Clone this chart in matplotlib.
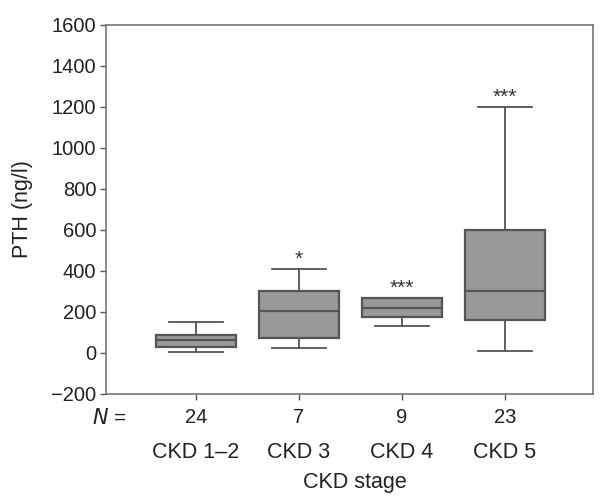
import matplotlib
matplotlib.use("Agg")
import matplotlib.pyplot as plt

plt.rcParams['font.family'] = ['Liberation Sans', 'DejaVu Sans']

stages = ['CKD 1\u20132', 'CKD 3', 'CKD 4', 'CKD 5']
n_values = ['24', '7', '9', '23']
whisker_low = [6, 24, 130, 12]
q1 = [31, 73, 176, 160]
median = [65, 205, 220, 300]
q3 = [87, 302, 267, 600]
whisker_high = [150, 411, 268, 1200]
stars = ['', '*', '***', '***']

positions = [0, 1, 2, 3]

stats = []
for i in range(len(stages)):
    stats.append({'whislo': whisker_low[i], 'q1': q1[i], 'med': median[i],
                  'q3': q3[i], 'whishi': whisker_high[i], 'fliers': []})

fig = plt.figure(figsize=(6.01, 5.03), dpi=100)
ax = fig.add_axes([0.1764, 0.2167, 0.8103, 0.7336])

edge = '#555555'
ax.bxp(stats, positions=positions, widths=0.77, patch_artist=True,
       showfliers=False,
       boxprops=dict(facecolor='#999999', edgecolor=edge, linewidth=1.6),
       medianprops=dict(color=edge, linewidth=1.6),
       whiskerprops=dict(color=edge, linewidth=1.3),
       capprops=dict(color=edge, linewidth=1.3),
       capwidths=0.53)

for p, s, top in zip(positions, stars, whisker_high):
    if s:
        ax.text(p, top + 2, s, ha='center', va='bottom', fontsize=15, color='#333333')

ax.set_ylim(-200, 1600)
ax.set_xlim(-0.874, 3.854)
ax.set_yticks(range(-200, 1601, 200))
ax.set_yticklabels(['\u2212200'] + [str(v) for v in range(0, 1601, 200)])
ax.set_xticks(positions)
ax.set_xticklabels(n_values)
ax.tick_params(axis='both', labelsize=14.5, colors='#555555', length=4, width=1, labelcolor='#222222')
ax.tick_params(axis='x', pad=6)
ax.tick_params(axis='y', pad=3)

for sp in ax.spines.values():
    sp.set_color('#777777')
    sp.set_linewidth(1.2)

ax.set_ylabel('PTH (ng/l)', fontsize=15.5, color='#222222')
ax.yaxis.set_label_coords(-0.150, 0.5)

for p, lab in zip(positions, stages):
    ax.text(p, -0.158, lab, transform=ax.get_xaxis_transform(), ha='center', va='center',
            fontsize=15.5, color='#222222')

fig.text(0.181, 0.169, '$N$ =', ha='center', va='center', fontsize=15, color='#222222')
fig.text(0.59, 0.040, 'CKD stage', ha='center', va='center', fontsize=15.5, color='#222222')

fig.savefig('out.png', dpi=100)
